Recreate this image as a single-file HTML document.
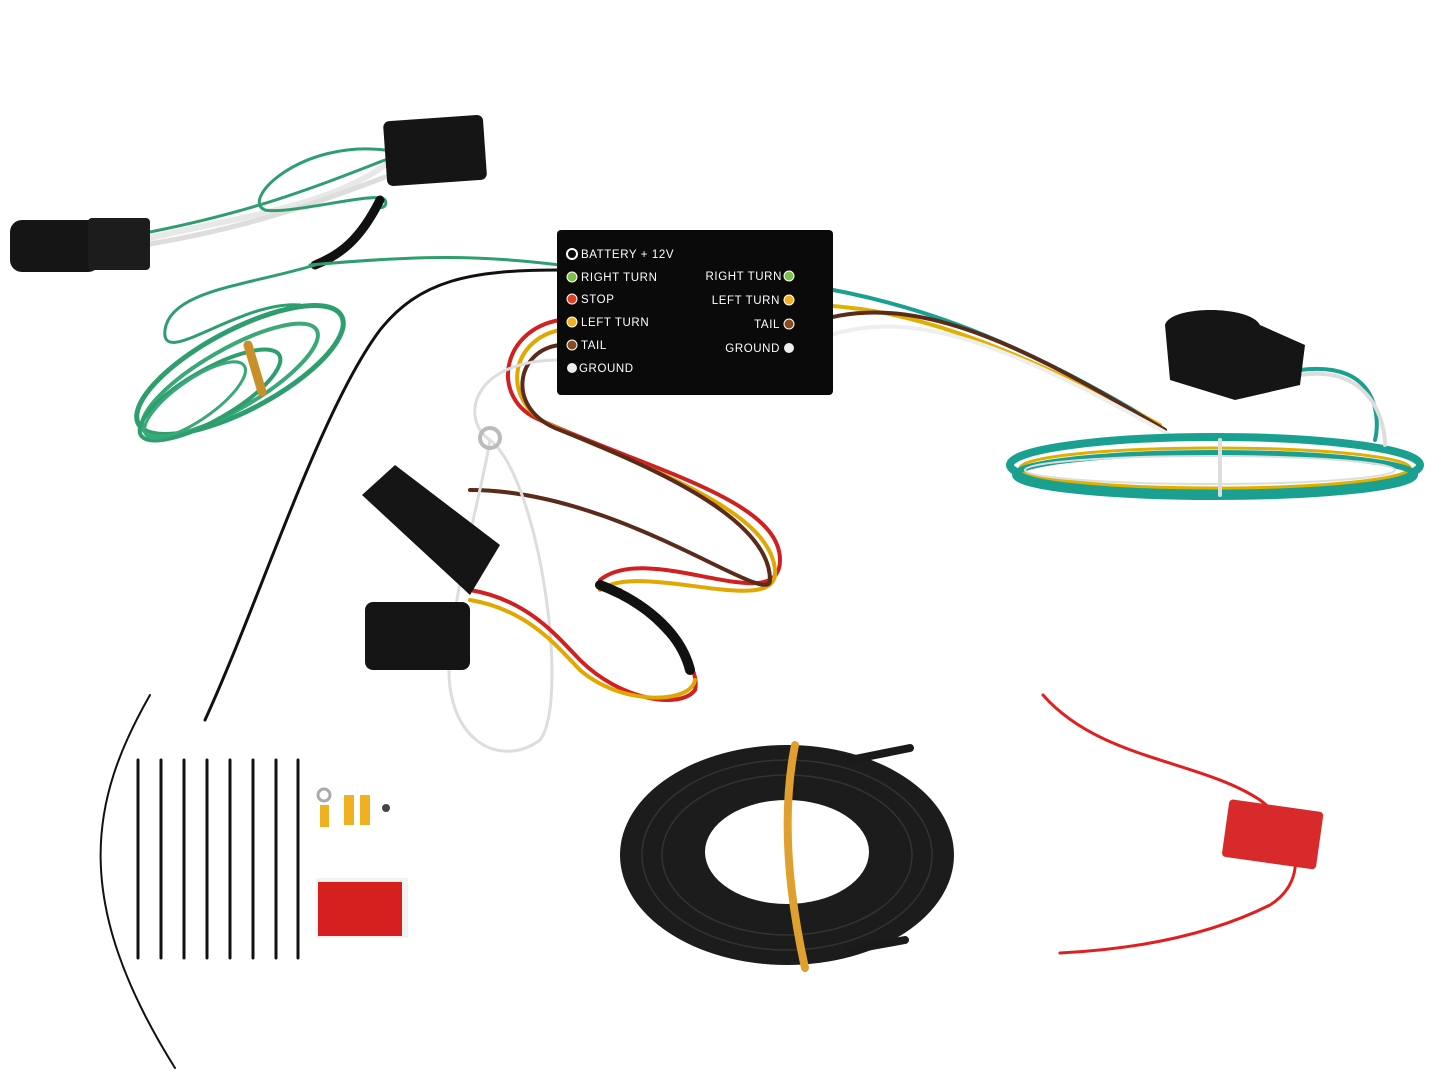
<!DOCTYPE html>
<html><head><style>
html,body{margin:0;padding:0;background:#fff;width:1445px;height:1084px;overflow:hidden}
svg{display:block}
text{font-family:"Liberation Sans",sans-serif;fill:#fff;font-size:11.5px;letter-spacing:0.6px}
</style></head><body>
<svg width="1445" height="1084" viewBox="0 0 1445 1084" fill="none" stroke-linecap="round">
<!-- top-left harness -->
<path d="M150 238 C250 215 330 205 385 165" stroke="#e8e8e8" stroke-width="6"/>
<path d="M150 244 C250 227 320 202 385 177" stroke="#ddd" stroke-width="5"/>
<path d="M150 232 C260 210 320 185 385 160" stroke="#2e9e6e" stroke-width="3"/>
<path d="M385 150 C300 140 240 200 265 210 C290 215 380 190 385 200 C390 210 370 210 380 200" stroke="#2e9e6e" stroke-width="3"/>
<path d="M380 200 C360 240 340 255 315 265" stroke="#111" stroke-width="9"/>
<path d="M315 265 C250 285 170 290 165 330 C160 370 240 300 300 305" stroke="#2e9e6e" stroke-width="3"/>
<path d="M310 265 C420 255 480 255 560 265" stroke="#2e9e6e" stroke-width="3"/>
<ellipse cx="240" cy="370" rx="115" ry="40" transform="rotate(-28 240 370)" stroke="#2e9e6e" stroke-width="5"/>
<ellipse cx="230" cy="380" rx="100" ry="30" transform="rotate(-30 230 380)" stroke="#3aa878" stroke-width="4"/>
<ellipse cx="210" cy="395" rx="80" ry="25" transform="rotate(-30 210 395)" stroke="#2e9e6e" stroke-width="4"/>
<ellipse cx="195" cy="400" rx="60" ry="20" transform="rotate(-35 195 400)" stroke="#3aa878" stroke-width="3"/>
<path d="M248 345 L262 392" stroke="#c8902a" stroke-width="9"/>
<path d="M560 270 C470 270 420 280 380 330 C320 410 260 600 205 720" stroke="#111" stroke-width="3"/>
<!-- connectors top-left -->
<rect x="10" y="220" width="90" height="52" rx="12" fill="#151515"/>
<rect x="88" y="218" width="62" height="52" rx="4" fill="#1c1c1c"/>
<rect x="385" y="118" width="100" height="65" rx="6" fill="#151515" transform="rotate(-4 435 150)"/>
<!-- box wires right -->
<path d="M805 285 C900 300 1000 330 1150 420" stroke="#1aa090" stroke-width="4"/>
<path d="M805 305 C900 305 1000 340 1160 425" stroke="#e0b000" stroke-width="4"/>
<path d="M805 325 C900 290 1000 330 1165 430" stroke="#5a2a1a" stroke-width="4"/>
<path d="M805 345 C900 300 1000 340 1170 435" stroke="#eee" stroke-width="4"/>
<ellipse cx="1215" cy="465" rx="205" ry="28" stroke="#1aa090" stroke-width="8"/>
<ellipse cx="1215" cy="468" rx="195" ry="20" stroke="#e0b000" stroke-width="3"/>
<ellipse cx="1215" cy="475" rx="200" ry="22" stroke="#1aa090" stroke-width="6"/>
<ellipse cx="1210" cy="470" rx="185" ry="14" stroke="#ddd" stroke-width="2"/>
<path d="M1300 370 C1380 360 1380 420 1375 440" stroke="#1aa090" stroke-width="4"/>
<path d="M1300 375 C1370 365 1385 420 1385 445" stroke="#ddd" stroke-width="4"/>
<path d="M1165 325 C1170 305 1250 305 1260 325 L1305 345 L1300 385 L1235 400 L1170 380 Z" fill="#151515"/>
<path d="M1220 440 L1220 495" stroke="#ddd" stroke-width="4"/>
<!-- box wires left -->
<path d="M560 320 C500 330 490 400 540 420 C650 470 780 500 780 560 C780 620 650 540 600 580" stroke="#d02020" stroke-width="4"/>
<path d="M560 330 C510 340 500 400 550 425 C650 470 770 510 775 570 C780 620 640 560 600 590" stroke="#e0a800" stroke-width="4"/>
<path d="M560 345 C515 350 505 410 560 430 C660 470 770 520 770 580 C770 610 620 490 470 490" stroke="#5a2a1a" stroke-width="4"/>
<path d="M560 360 C470 360 460 420 490 440 C540 480 570 700 540 740 C500 770 440 740 450 650 C460 560 480 500 490 440" stroke="#ddd" stroke-width="3"/>
<circle cx="490" cy="438" r="10" stroke="#bbb" stroke-width="4"/>
<path d="M470 590 C530 600 560 640 580 660 C620 700 680 710 695 690 C700 670 680 640 620 590" stroke="#d02020" stroke-width="4"/>
<path d="M470 600 C530 610 560 650 580 670 C620 705 690 705 695 680" stroke="#e0a800" stroke-width="4"/>
<path d="M600 585 C640 600 680 630 690 670" stroke="#111" stroke-width="10"/>
<path d="M362 495 L395 465 L500 545 L470 595 Z" fill="#151515"/>
<rect x="365" y="602" width="105" height="68" rx="8" fill="#151515"/>
<!-- box -->
<rect x="557" y="230" width="276" height="165" rx="4" fill="#0a0a0a"/>
<circle cx="572" cy="254" r="5" stroke="#fff" stroke-width="2"/><text x="581" y="258">BATTERY + 12V</text>
<circle cx="572" cy="277" r="5" fill="#7dc04a" stroke="#fff"/><text x="581" y="281">RIGHT TURN</text>
<circle cx="572" cy="299" r="5" fill="#e04020" stroke="#fff"/><text x="581" y="303">STOP</text>
<circle cx="572" cy="322" r="5" fill="#f0b020" stroke="#fff"/><text x="581" y="326">LEFT TURN</text>
<circle cx="572" cy="345" r="5" fill="#8a4a20" stroke="#fff"/><text x="581" y="349">TAIL</text>
<circle cx="572" cy="368" r="5" fill="#eee"/><text x="579" y="372">GROUND</text>
<circle cx="789" cy="276" r="5" fill="#7dc04a" stroke="#fff"/><text x="782" y="280" text-anchor="end">RIGHT TURN</text>
<circle cx="789" cy="300" r="5" fill="#f0b020" stroke="#fff"/><text x="780" y="304" text-anchor="end">LEFT TURN</text>
<circle cx="789" cy="324" r="5" fill="#8a4a20" stroke="#fff"/><text x="780" y="328" text-anchor="end">TAIL</text>
<circle cx="789" cy="348" r="5" fill="#eee"/><text x="780" y="352" text-anchor="end">GROUND</text>
<!-- zip ties -->
<path d="M150 695 C90 800 70 900 175 1068" stroke="#111" stroke-width="2"/>
<g stroke="#111" stroke-width="3">
<path d="M138 760 V958"/><path d="M161 760 V958"/><path d="M184 760 V958"/><path d="M207 760 V958"/><path d="M230 760 V958"/><path d="M253 760 V958"/><path d="M276 760 V958"/><path d="M298 760 V958"/></g>
<circle cx="324" cy="795" r="6" stroke="#aaa" stroke-width="3"/><rect x="320" y="805" width="9" height="22" fill="#f0b020"/>
<rect x="344" y="795" width="10" height="30" fill="#f0b020"/><rect x="360" y="795" width="10" height="30" fill="#f0b020"/>
<circle cx="386" cy="808" r="4" fill="#444"/>
<rect x="316" y="878" width="92" height="60" fill="#f2f2f2"/>
<rect x="318" y="882" width="84" height="54" fill="#d62020"/>
<!-- black coil -->
<path fill-rule="evenodd" fill="#1c1c1c" d="M620 855 A167 110 0 1 0 954 855 A167 110 0 1 0 620 855 Z M705 852 A82 52 0 1 0 869 852 A82 52 0 1 0 705 852 Z"/>
<ellipse cx="787" cy="855" rx="125" ry="80" stroke="#333" stroke-width="1.5"/>
<ellipse cx="787" cy="855" rx="145" ry="95" stroke="#333" stroke-width="1.5"/>
<path d="M850 760 L910 748" stroke="#1a1a1a" stroke-width="8"/><path d="M850 950 L905 940" stroke="#1a1a1a" stroke-width="8"/>
<path d="M795 745 C780 820 790 900 805 968" stroke="#e0a030" stroke-width="8"/>
<!-- red wire -->
<path d="M1043 695 C1100 760 1200 760 1260 800 C1300 830 1310 880 1270 905 C1200 940 1120 950 1060 953" stroke="#e02020" stroke-width="3"/>
<rect x="1225" y="805" width="95" height="58" rx="4" fill="#d82a2a" transform="rotate(8 1270 835)"/>
</svg>
</body></html>
